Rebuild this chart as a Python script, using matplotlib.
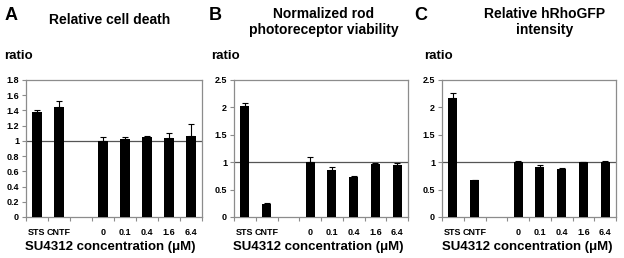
import matplotlib
matplotlib.use("Agg")
import matplotlib.pyplot as plt
import numpy as np

plt.rcParams['font.family'] = ['Liberation Sans', 'DejaVu Sans']

categories = ['STS', 'CNTF', '', '0', '0.1', '0.4', '1.6', '6.4']
bar_slots = [0, 1, 3, 4, 5, 6, 7]

death_vals = [1.38, 1.44, 1.00, 1.03, 1.05, 1.04, 1.07]
death_err = [0.02, 0.09, 0.05, 0.02, 0.01, 0.06, 0.15]

rod_vals = [2.02, 0.23, 1.00, 0.86, 0.73, 0.97, 0.94]
rod_err = [0.06, 0.03, 0.10, 0.06, 0.02, 0.02, 0.05]

gfp_vals = [2.18, 0.68, 1.00, 0.92, 0.87, 1.00, 1.01]
gfp_err = [0.08, 0.00, 0.03, 0.02, 0.02, 0.01, 0.02]

panels = [
    dict(letter='A', title='Relative cell death', vals=death_vals, err=death_err,
         ymax=1.8, yticks=[0, 0.2, 0.4, 0.6, 0.8, 1, 1.2, 1.4, 1.6, 1.8],
         ylabels=['0', '0.2', '0.4', '0.6', '0.8', '1', '1.2', '1.4', '1.6', '1.8'],
         left=26, right=202, letter_x=5, title_x=110, title_y=13, ratio_x=4, xlabel_x=110),
    dict(letter='B', title='Normalized rod\nphotoreceptor viability', vals=rod_vals, err=rod_err,
         ymax=2.5, yticks=[0, 0.5, 1, 1.5, 2, 2.5],
         ylabels=['0', '0.5', '1', '1.5', '2', '2.5'],
         left=234, right=408, letter_x=209, title_x=324, title_y=7, ratio_x=211, xlabel_x=318),
    dict(letter='C', title='Relative hRhoGFP\nintensity', vals=gfp_vals, err=gfp_err,
         ymax=2.5, yticks=[0, 0.5, 1, 1.5, 2, 2.5],
         ylabels=['0', '0.5', '1', '1.5', '2', '2.5'],
         left=442, right=616, letter_x=414, title_x=545, title_y=7, ratio_x=424, xlabel_x=527),
]

W, H = 624, 258
fig = plt.figure(figsize=(W / 100, H / 100), dpi=100)
gray = '#8c8c8c'

for p in panels:
    top, bottom = 80, 217
    ax = fig.add_axes([p['left'] / W, (H - bottom) / H, (p['right'] - p['left']) / W, (bottom - top) / H])
    ax.bar(bar_slots, p['vals'], width=0.42, color='black', zorder=3)
    lower = [0] * len(p['err'])
    ax.errorbar(bar_slots, p['vals'], yerr=[lower, p['err']], fmt='none', ecolor='black',
                elinewidth=0.8, capsize=2, capthick=0.8, zorder=4)
    ax.axhline(1, color='#555555', lw=0.9, zorder=2)
    ax.set_xlim(-0.5, 7.5)
    ax.set_ylim(0, p['ymax'])
    ax.set_yticks(p['yticks'])
    ax.set_yticklabels(p['ylabels'], fontsize=6.5, fontweight='bold')
    ax.set_xticks(range(8))
    ax.set_xticklabels(categories, fontsize=6.5, fontweight='bold')
    ax.set_xticks(np.arange(-0.5, 8, 1), minor=True)
    ax.tick_params(axis='x', which='major', length=0, pad=8)
    ax.tick_params(axis='x', which='minor', length=3, color=gray, width=0.8)
    ax.tick_params(axis='y', length=3, color=gray, width=0.8, pad=2)
    for s in ax.spines.values():
        s.set_color(gray)
        s.set_linewidth(0.9)

    fig.text(p['letter_x'] / W, 1 - 16 / H, p['letter'], fontsize=13, fontweight='bold',
             ha='left', va='center')
    fig.text(p['title_x'] / W, 1 - p['title_y'] / H, p['title'], fontsize=10, fontweight='bold',
             ha='center', va='top', linespacing=1.15)
    fig.text(p['ratio_x'] / W, 1 - 56 / H, 'ratio', fontsize=9.5, fontweight='bold',
             ha='left', va='center')
    fig.text(p['xlabel_x'] / W, 1 - 247 / H, 'SU4312 concentration (μM)', fontsize=9.5,
             fontweight='bold', ha='center', va='center')

fig.savefig('out.png', dpi=100)
